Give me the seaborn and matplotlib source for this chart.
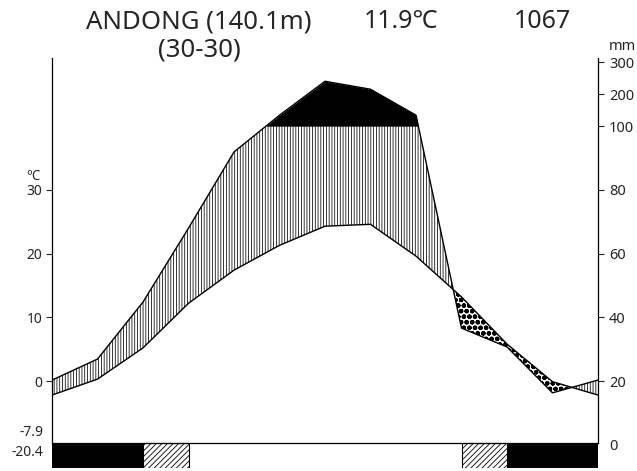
import numpy as np
import pandas as pd
import matplotlib
matplotlib.use('Agg')
import matplotlib.pyplot as plt
import seaborn as sns

# station info
station = 'ANDONG (140.1m)'
period = '(30-30)'
annual_temp = '11.9℃'
annual_prec = '1067'
cold_min = '-7.9'
abs_min = '-20.4'

# monthly normals
months = ['Jan', 'Feb', 'Mar', 'Apr', 'May', 'Jun', 'Jul', 'Aug', 'Sep', 'Oct', 'Nov', 'Dec']
temp = [-2.2, 0.3, 5.2, 12.2, 17.4, 21.3, 24.3, 24.6, 19.6, 13.2, 5.8, -0.1]
prec = [20.3, 26.9, 44.8, 68.0, 91.9, 134.5, 241.0, 216.0, 134.5, 36.6, 30.7, 16.3]
frost = [2, 2, 1, 0, 0, 0, 0, 0, 0, 1, 2, 2]   # 2 = sure frost, 1 = possible frost

t_ticks = [0, 10, 20, 30]
p_ticks = [20, 40, 60, 80, 100, 200, 300]


def p2t(p):
    # mm -> temperature scale (20 mm = 0 C, 2 mm per C, 1/10 above 100 mm)
    p = np.asarray(p, dtype=float)
    return np.where(p <= 100, (p - 20) / 2.0, 40 + (p - 100) / 20.0)


def hatch_lw(artist, lw):
    # hatch width is read when the artist is drawn, so wrap its draw
    if hasattr(artist, 'set_hatch_linewidth'):
        artist.set_hatch_linewidth(lw)
    orig = artist.draw

    def draw(renderer):
        with plt.rc_context({'hatch.linewidth': lw}):
            orig(renderer)
    artist.draw = draw


W, H = 637, 471
y_low, y_top = -13.6, 50.7
y_axis = -9.7

sns.set_style('white')
plt.rcParams['font.family'] = ['Noto Sans', 'Noto Sans CJK KR', 'DejaVu Sans']
plt.rcParams['hatch.linewidth'] = 0.6

fig = plt.figure(figsize=(W / 100, H / 100), dpi=100)
ax = fig.add_axes([52 / W, 1 - 467.7 / H, (598 - 52) / W, (467.7 - 58) / H])

x = np.arange(13)
t13 = np.array(temp + [temp[0]])
p13 = p2t(prec + [prec[0]])
df = pd.DataFrame({'x': x, 'temp': t13, 'prec': p13})

xf = np.linspace(0, 12, 2401)
tf = np.interp(xf, x, t13)
pf = np.interp(xf, x, p13)

# humid period
wet = ax.fill_between(xf, tf, np.minimum(pf, 40), where=pf >= tf, interpolate=True,
                      facecolor='white', edgecolor='black', hatch='||||||', linewidth=0)
hatch_lw(wet, 0.55)
# arid period
dry = ax.fill_between(xf, pf, tf, where=tf >= pf, interpolate=True,
                      facecolor='white', edgecolor='black', hatch='ooo', linewidth=0)
hatch_lw(dry, 1.6)
# above 100 mm
ax.fill_between(xf, 40, pf, where=pf >= 40, interpolate=True, color='black', linewidth=0)

sns.lineplot(data=df, x='x', y='temp', color='black', linewidth=1, ax=ax)
sns.lineplot(data=df, x='x', y='prec', color='black', linewidth=1, ax=ax)

# frost bars
bh = y_axis - y_low
for i, f in enumerate(frost):
    if f == 2:
        ax.bar(i + 0.5, bh, bottom=y_low, width=1, color='black', linewidth=0)
    elif f == 1:
        bars = ax.bar(i + 0.5, bh, bottom=y_low, width=1, facecolor='white',
                      edgecolor='black', hatch='//////', linewidth=0.8)
        for b in bars:
            hatch_lw(b, 0.6)

ax.set_xlim(0, 12)
ax.set_ylim(y_low, y_top)
ax.set_xlabel('')
ax.set_ylabel('')
ax.set_xticks(range(1, 12))
ax.tick_params(axis='x', direction='in', length=3.5, width=0.8, labelbottom=False)
ax.set_yticks(t_ticks)
ax.tick_params(axis='y', direction='out', length=4, width=0.8, pad=3, labelsize=10,
               left=True)
ax.spines['top'].set_visible(False)
ax.spines['right'].set_visible(False)
ax.spines['left'].set_bounds(y_axis, y_top)
ax.spines['bottom'].set_position(('data', y_axis))
for s in ['left', 'bottom']:
    ax.spines[s].set_linewidth(0.9)
    ax.spines[s].set_color('black')

ax2 = ax.twinx()
ax2.set_ylim(y_low, y_top)
ax2.set_yticks(p2t(p_ticks))
ax2.set_yticklabels([str(v) for v in p_ticks])
ax2.tick_params(axis='y', direction='out', length=4, width=0.8, pad=4, labelsize=10.5,
                right=True)
for s in ['top', 'left', 'bottom']:
    ax2.spines[s].set_visible(False)
ax2.spines['right'].set_bounds(y_axis, y_top)
ax2.spines['right'].set_linewidth(0.9)
ax2.spines['right'].set_color('black')


def fx(px):
    return px / W


def fy(py):
    return 1 - py / H


fig.text(fx(199), fy(22), station, ha='center', va='center', fontsize=18.5)
fig.text(fx(199), fy(50), period, ha='center', va='center', fontsize=18.5)
fig.text(fx(401), fy(22), annual_temp, ha='center', va='center', fontsize=18)
fig.text(fx(542), fy(22), annual_prec, ha='center', va='center', fontsize=18)
fig.text(fx(33), fy(176), '℃', ha='center', va='center', fontsize=9.5)
fig.text(fx(43), fy(433), cold_min, ha='right', va='center', fontsize=10)
fig.text(fx(43), fy(453), abs_min, ha='right', va='center', fontsize=10)
fig.text(fx(609), fy(46), 'mm', ha='left', va='center', fontsize=10.5)
fig.text(fx(609), fy(446), '0', ha='left', va='center', fontsize=10.5)

fig.savefig('out.png', dpi=100)
